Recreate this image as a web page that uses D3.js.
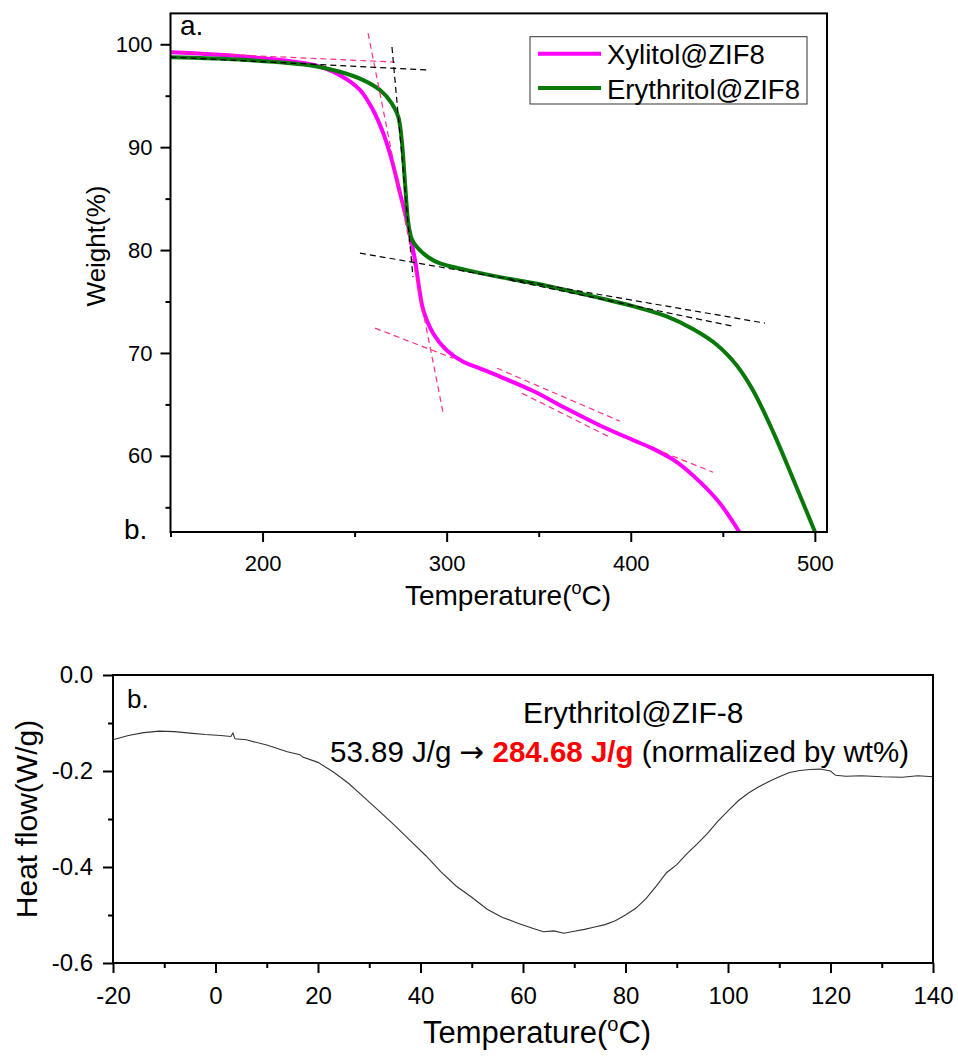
<!DOCTYPE html>
<html>
<head>
<meta charset="utf-8">
<script src="https://cdn.jsdelivr.net/npm/d3@7"></script>
<style>
  body { margin: 0; background: #fff; }
  svg text { font-family: "Liberation Sans", Arial, sans-serif; }
</style>
</head>
<body>
<svg id="fig" width="958" height="1057"></svg>
<script>
// TGA curves (temperature in C, weight %)
let xylitolT = [150, 191, 228, 242, 253, 260, 265.6, 270.2, 274.7, 279.2, 282.8, 285.5, 287.3, 292.7, 300, 309, 318, 329, 347, 365, 383, 401, 412, 425, 437.6, 448.5, 459];
let xylitolW = [99.22, 98.79, 97.98, 97.0, 95.55, 93.61, 91.34, 88.75, 85.51, 82.26, 79.02, 75.79, 74.16, 71.9, 70.27, 69.14, 68.5, 67.7, 66.3, 64.6, 62.98, 61.55, 60.7, 59.4, 57.47, 55.37, 52.6];

let erythritolT = [150, 191, 228, 242, 254.7, 263.8, 270.2, 273.7, 275.6, 277.4, 279.2, 281, 283.7, 290, 296.4, 310.9, 329, 347, 365, 383, 401, 419.5, 434, 446.7, 457.5, 466.6, 477.4, 488.3, 500.1];
let erythritolW = [98.73, 98.47, 97.89, 97.33, 96.52, 95.55, 94.26, 92.96, 90.69, 86.48, 82.59, 81.1, 80.32, 79.3, 78.7, 78.05, 77.37, 76.8, 76.1, 75.35, 74.55, 73.55, 72.3, 70.8, 68.8, 66.3, 62.3, 57.7, 52.6];

// tangent (onset) construction lines: [x1, y1, x2, y2]
let pinkTangents = [
  [150, 99.25, 271.9, 98.27],
  [257.3, 101.09, 298.0, 64.24],
  [261.1, 72.41, 303.4, 69.49],
  [327.3, 68.52, 394.1, 63.37],
  [340.9, 66.09, 388.7, 61.81],
  [417.5, 60.35, 444.7, 58.41]
];
let blackTangents = [
  [150, 98.76, 289.4, 97.5],
  [270.3, 99.73, 281.7, 77.37],
  [252.9, 79.7, 472.9, 72.9],
  [334.4, 77.07, 455.5, 72.6]
];

let topXTicks = [200, 300, 400, 500];
let topXMinor = [150, 250, 350, 450];
let topYTicks = [60, 70, 80, 90, 100];
let topYMinor = [55, 65, 75, 85, 95];
let legendNames = ["Xylitol@ZIF8", "Erythritol@ZIF8"];
let seriesColors = ["#ff00ff", "#087808"];

// DSC curve (temperature in C, heat flow W/g)
let dscT = [-20, -17, -14, -11, -8, -5, -2, 1, 3, 3.4, 3.8, 6, 10, 14, 16.5, 17, 20, 23, 26, 29, 32, 35, 38, 41, 44, 47, 50, 53, 56, 59, 62, 64, 66, 68, 70, 72, 74, 76, 78, 80, 82, 84, 86, 88, 90, 92, 94, 96, 98, 100, 102, 104, 106, 108, 110, 112, 114, 116, 118, 120, 121, 123, 126, 130, 134, 137, 140];
let dscH = [-0.135, -0.126, -0.12, -0.117, -0.118, -0.121, -0.124, -0.126, -0.128, -0.121, -0.133, -0.135, -0.146, -0.16, -0.166, -0.171, -0.182, -0.202, -0.226, -0.255, -0.284, -0.314, -0.345, -0.376, -0.41, -0.44, -0.463, -0.488, -0.505, -0.517, -0.528, -0.535, -0.533, -0.538, -0.534, -0.53, -0.525, -0.52, -0.512, -0.5, -0.486, -0.466, -0.44, -0.412, -0.395, -0.372, -0.352, -0.33, -0.305, -0.283, -0.262, -0.246, -0.233, -0.222, -0.212, -0.203, -0.199, -0.197, -0.196, -0.2, -0.209, -0.211, -0.21, -0.212, -0.213, -0.21, -0.212];

let botXTicks = [-20, 0, 20, 40, 60, 80, 100, 120, 140];
let botXMinor = [-10, 10, 30, 50, 70, 90, 110, 130];
let botYTicks = [0, -0.2, -0.4, -0.6];
let botYMinor = [-0.1, -0.3, -0.5];

let svg = d3.select("#fig");

// plain hyphen instead of d3's unicode minus
function hyph(fmt) {
    let f = d3.format(fmt);
    return d => f(d).replace("\u2212", "-");
}

function styleAxis(g, fs) {
    g.select(".domain").remove();
    g.selectAll(".tick line").attr("stroke", "#000").attr("stroke-width", 2);
    g.selectAll(".tick text").attr("fill", "#000").style("font-size", fs + "px")
        .style("font-family", "'Liberation Sans', Arial, sans-serif");
}

/* ---------- panel a: TGA ---------- */
let xA = d3.scaleLinear().domain([150, 506.6]).range([170.5, 827]);
let yA = d3.scaleLinear().domain([52.6, 103]).range([532, 13.4]);

let gA = svg.append("g");

function drawTangents(list, color) {
    gA.selectAll(null).data(list).enter().append("line")
        .attr("x1", d => xA(d[0])).attr("y1", d => yA(d[1]))
        .attr("x2", d => xA(d[2])).attr("y2", d => yA(d[3]))
        .attr("stroke", color)
        .attr("stroke-width", 1.2)
        .attr("stroke-dasharray", "6,4");
}

let lineA = d3.line().curve(d3.curveCatmullRom.alpha(0.5));
let xyl = xylitolT.map((t, i) => [xA(t), yA(xylitolW[i])]);
let ery = erythritolT.map((t, i) => [xA(t), yA(erythritolW[i])]);

gA.append("path").attr("d", lineA(xyl))
    .attr("fill", "none").attr("stroke", seriesColors[0]).attr("stroke-width", 4);
gA.append("path").attr("d", lineA(ery))
    .attr("fill", "none").attr("stroke", seriesColors[1]).attr("stroke-width", 4);

drawTangents(pinkTangents, "#ff2f8a");
drawTangents(blackTangents, "#000");

// frame
gA.append("rect")
    .attr("x", 170.5).attr("y", 13.4)
    .attr("width", 827 - 170.5).attr("height", 532 - 13.4)
    .attr("fill", "none").attr("stroke", "#000").attr("stroke-width", 2);

let axXA = gA.append("g").attr("transform", "translate(0,532)")
    .call(d3.axisBottom(xA).tickValues(topXTicks).tickSize(10).tickPadding(8).tickFormat(d3.format("d")));
styleAxis(axXA, 22);
axXA.selectAll(".tick text").attr("dy", "0.95em");
let axXAm = gA.append("g").attr("transform", "translate(0,532)")
    .call(d3.axisBottom(xA).tickValues(topXMinor).tickSize(5).tickFormat(""));
styleAxis(axXAm, 22);

let axYA = gA.append("g").attr("transform", "translate(170.5,0)")
    .call(d3.axisLeft(yA).tickValues(topYTicks).tickSize(10).tickPadding(8).tickFormat(d3.format("d")));
styleAxis(axYA, 22);
let axYAm = gA.append("g").attr("transform", "translate(170.5,0)")
    .call(d3.axisLeft(yA).tickValues(topYMinor).tickSize(5).tickFormat(""));
styleAxis(axYAm, 22);

// titles
gA.append("text").attr("x", 508).attr("y", 605).attr("text-anchor", "middle")
    .style("font-size", "28px")
    .call(t => {
        t.append("tspan").text("Temperature(");
        t.append("tspan").text("o").style("font-size", "18px").attr("dy", -11);
        t.append("tspan").text("C)").attr("dy", 11);
    });
gA.append("text").attr("transform", "translate(105,246) rotate(-90)")
    .attr("text-anchor", "middle").style("font-size", "26px").text("Weight(%)");

gA.append("text").attr("x", 180).attr("y", 35).style("font-size", "28px").text("a.");
gA.append("text").attr("x", 124).attr("y", 539).style("font-size", "28px").text("b.");

// legend
let leg = gA.append("g");
leg.append("rect").attr("x", 530).attr("y", 36.7).attr("width", 277).attr("height", 67.3)
    .attr("fill", "#fff").attr("stroke", "#333").attr("stroke-width", 1);
legendNames.forEach(function (name, i) {
    let ly = 53.7 + i * 34.3;
    leg.append("line").attr("x1", 538).attr("x2", 601).attr("y1", ly).attr("y2", ly)
        .attr("stroke", seriesColors[i]).attr("stroke-width", 4);
    leg.append("text").attr("x", 607).attr("y", ly + 10.5).style("font-size", "27.5px").text(name);
});

/* ---------- panel b: DSC ---------- */
let xB = d3.scaleLinear().domain([-20, 140]).range([113, 933]);
let yB = d3.scaleLinear().domain([-0.6, 0]).range([963, 675]);

let gB = svg.append("g");

let lineB = d3.line().x((d, i) => xB(dscT[i])).y(d => yB(d));
gB.append("path").attr("d", lineB(dscH))
    .attr("fill", "none").attr("stroke", "#333").attr("stroke-width", 1.1);

gB.append("rect")
    .attr("x", 113).attr("y", 675).attr("width", 933 - 113).attr("height", 963 - 675)
    .attr("fill", "none").attr("stroke", "#000").attr("stroke-width", 2);

let axXB = gB.append("g").attr("transform", "translate(0,963)")
    .call(d3.axisBottom(xB).tickValues(botXTicks).tickSize(10).tickPadding(8).tickFormat(hyph("d")));
styleAxis(axXB, 24);
axXB.selectAll(".tick text").attr("dy", "0.95em");
let axXBm = gB.append("g").attr("transform", "translate(0,963)")
    .call(d3.axisBottom(xB).tickValues(botXMinor).tickSize(5).tickFormat(""));
styleAxis(axXBm, 24);

let axYB = gB.append("g").attr("transform", "translate(113,0)")
    .call(d3.axisLeft(yB).tickValues(botYTicks).tickSize(10).tickPadding(10).tickFormat(hyph(".1f")));
styleAxis(axYB, 24);
let axYBm = gB.append("g").attr("transform", "translate(113,0)")
    .call(d3.axisLeft(yB).tickValues(botYMinor).tickSize(5).tickFormat(""));
styleAxis(axYBm, 24);

gB.append("text").attr("x", 537).attr("y", 1043).attr("text-anchor", "middle")
    .style("font-size", "31px")
    .call(t => {
        t.append("tspan").text("Temperature(");
        t.append("tspan").text("o").style("font-size", "20px").attr("dy", -12);
        t.append("tspan").text("C)").attr("dy", 12);
    });
gB.append("text").attr("transform", "translate(37,819) rotate(-90)")
    .attr("text-anchor", "middle").style("font-size", "30px").text("Heat flow(W/g)");

gB.append("text").attr("x", 127).attr("y", 708).style("font-size", "26px").text("b.");
gB.append("text").attr("x", 523).attr("y", 723).style("font-size", "30px").text("Erythritol@ZIF-8");
gB.append("text").attr("x", 330).attr("y", 762).style("font-size", "29.5px")
    .call(t => {
        t.append("tspan").text("53.89 J/g ");
        t.append("tspan").text("\u2192").style("font-family", "'DejaVu Sans', sans-serif");
        t.append("tspan").text(" ");
        t.append("tspan").text("284.68 J/g").attr("fill", "#ff0000").style("font-weight", "bold");
        t.append("tspan").text(" (normalized by wt%)");
    });
</script>
</body>
</html>
